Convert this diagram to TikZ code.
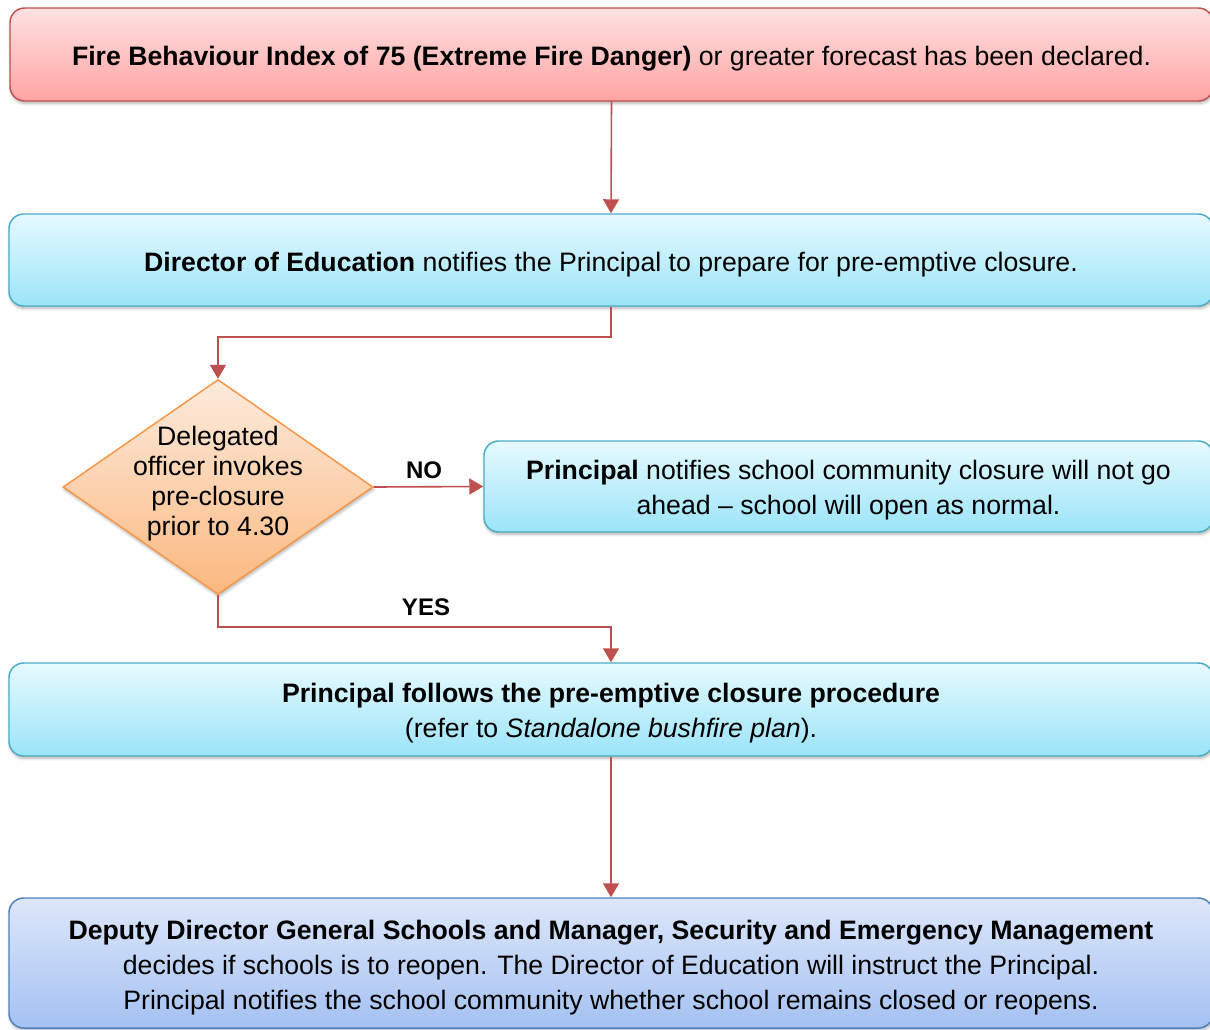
\documentclass[tikz,border=0pt]{standalone}
\usepackage{fontspec}
\setmainfont{Liberation Sans}
\usetikzlibrary{arrows.meta,shapes.geometric,shadows.blur}
\definecolor{redB}{HTML}{C0504D}
\definecolor{redT}{HTML}{FFE2E2}
\definecolor{redBt}{HTML}{FFA3A3}
\definecolor{cyB}{HTML}{4BACC6}
\definecolor{cyT}{HTML}{E6FAFF}
\definecolor{cyBt}{HTML}{9BE4F9}
\definecolor{orB}{HTML}{F79646}
\definecolor{orT}{HTML}{FDEBDD}
\definecolor{orBt}{HTML}{FBB87F}
\definecolor{blB}{HTML}{4F81BD}
\definecolor{blT}{HTML}{DDE7FA}
\definecolor{blBt}{HTML}{A4C1F2}
\tikzset{
  boxbase/.style={rectangle, rounded corners=11pt, line width=1.1pt, inner sep=0pt,
    blur shadow={shadow xshift=0.6pt, shadow yshift=-1.8pt, shadow blur steps=6, shadow opacity=30}},
  redbox/.style={boxbase, draw=redB, top color=redT, bottom color=redBt},
  cybox/.style={boxbase, draw=cyB, top color=cyT, bottom color=cyBt},
  blbox/.style={boxbase, draw=blB, top color=blT, bottom color=blBt},
  btext/.style={align=center, inner sep=0pt, font=\fontsize{20}{26.2}\selectfont},
  decide/.style={diamond, draw=orB, line width=1.1pt, top color=orT, bottom color=orBt, inner sep=0pt,
    blur shadow={shadow xshift=0.6pt, shadow yshift=-1.8pt, shadow blur steps=6, shadow opacity=30}},
  dtext/.style={align=center, inner sep=0pt, font=\fontsize{20}{22.5}\selectfont},
  conn/.style={draw=redB, line width=1.2pt, -{Triangle[length=10.5pt,width=12pt]}},
  lbl/.style={font=\fontsize{18}{20}\selectfont\bfseries, inner sep=0pt}
}
\begin{document}
\begin{tikzpicture}[x=0.75pt,y=-0.75pt]
\useasboundingbox (0,0) rectangle (1210,1029);
% boxes
\node[redbox, minimum width={1203*0.75pt}, minimum height={93*0.75pt}] (b1) at (611.5,54.5) {};
\node[cybox, minimum width={1204*0.75pt}, minimum height={92*0.75pt}] (b2) at (611,260) {};
\node[decide, minimum width={310*0.75pt}, minimum height={215*0.75pt}] (dia) at (218,487) {};
\node[cybox, minimum width={729*0.75pt}, minimum height={91*0.75pt}] (b3) at (848.5,486.5) {};
\node[cybox, minimum width={1204*0.75pt}, minimum height={93*0.75pt}] (b4) at (611,709.5) {};
\node[blbox, minimum width={1204*0.75pt}, minimum height={130*0.75pt}] (b5) at (611,963) {};
% texts
\node[btext] (t1) at (611.5,58.5)
  {\textbf{Fire Behaviour Index of 75 (Extreme Fire Danger)} or greater forecast has been declared.};
\node[btext] (t2) at (611,264.5)
  {\textbf{Director of Education} notifies the Principal to prepare for pre-emptive closure.};
\node[dtext] (diat) at (218,484) {Delegated\\officer invokes\\pre-closure\\prior to 4.30};
\node[btext] (t3) at (848.5,490)
  {\textbf{Principal} notifies school community closure will not go\\ahead -- school will open as normal.};
\node[btext] (t4) at (611,713)
  {\textbf{Principal follows the pre-emptive closure procedure}\\(refer to \textit{Standalone bushfire plan}).};
\node[btext] (t5) at (611,967.5)
  {\textbf{Deputy Director General Schools and Manager, Security and Emergency Management}\\decides if schools is to reopen. The Director of Education will instruct the Principal.\\Principal notifies the school community whether school remains closed or reopens.};
% connectors
\coordinate (c1) at (218,337);
\coordinate (c2) at (611,627);
\draw[conn] (b1.south) -- (b2.north);
\draw[conn] (b2.south) |- (c1) -- (dia.north);
\draw[conn] (dia.east) -- (b3.west);
\draw[conn] (dia.south) |- (c2) -- (b4.north);
\draw[conn] (b4.south) -- (b5.north);
\node[lbl] (no) at (424,470) {NO};
\node[lbl] (yes) at (426,607) {YES};
\end{tikzpicture}
\end{document}
